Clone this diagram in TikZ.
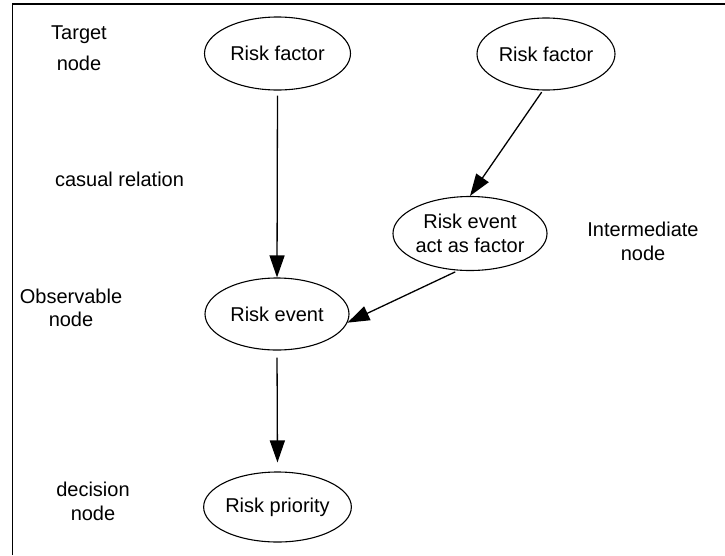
\documentclass[tikz,border=0pt]{standalone}
\usepackage{fontspec}
\setmainfont{Liberation Sans}
\usetikzlibrary{shapes.geometric,arrows.meta}
\begin{document}
\begin{tikzpicture}[x=1pt,y=-1pt,
  every node/.style={font=\fontsize{20}{23.5}\selectfont},
  oval/.style={draw,ellipse,line width=1.1pt,inner sep=0pt,align=center},
  lbl/.style={align=center,inner sep=0pt},
  arr/.style={line width=1.3pt,-{Triangle[length=22pt,width=15pt]}}]
  \useasboundingbox (0,0) rectangle (725,555);
  % open frame: top and left edges only
  \draw[line width=1.6pt] (12.5,555) -- (12.5,4) -- (725,4);

  % nodes
  \node[oval,minimum width=146pt,minimum height=73pt] (rf1) at (277.5,53.5) {Risk factor};
  \node[oval,minimum width=138pt,minimum height=72pt] (rf2) at (546,54) {Risk factor};
  \node[oval,minimum width=145pt,minimum height=74pt] (ie) at (470,233.5) {Risk event\\act as factor};
  \node[oval,minimum width=144pt,minimum height=72pt] (re) at (277,314) {Risk event};
  \node[oval,minimum width=145pt,minimum height=70pt] (rp) at (277.5,507) {Risk priority};

  % side labels
  \node[lbl] (lt) at (79,48) {Target\\[7.5pt]node};
  \node[lbl,anchor=base] (lc) at (119.5,186) {casual relation};
  \node[lbl] (lo) at (71,308) {Observable\\node};
  \node[lbl] (li) at (643,241.5) {Intermediate\\node};
  \node[lbl] (ld) at (93,501.5) {decision\\node};

  % causal links
  \draw[arr,shorten <=5pt] (rf1.south) -- (re.north);
  \draw[arr,shorten <=2pt] (rf2.-95) -- (ie.north);
  \draw[arr,shorten <=3pt] (ie.-108) -- (re.-7);
  \draw[arr,shorten <=7pt,shorten >=9pt] (re.south) -- (rp.north);
\end{tikzpicture}
\end{document}
